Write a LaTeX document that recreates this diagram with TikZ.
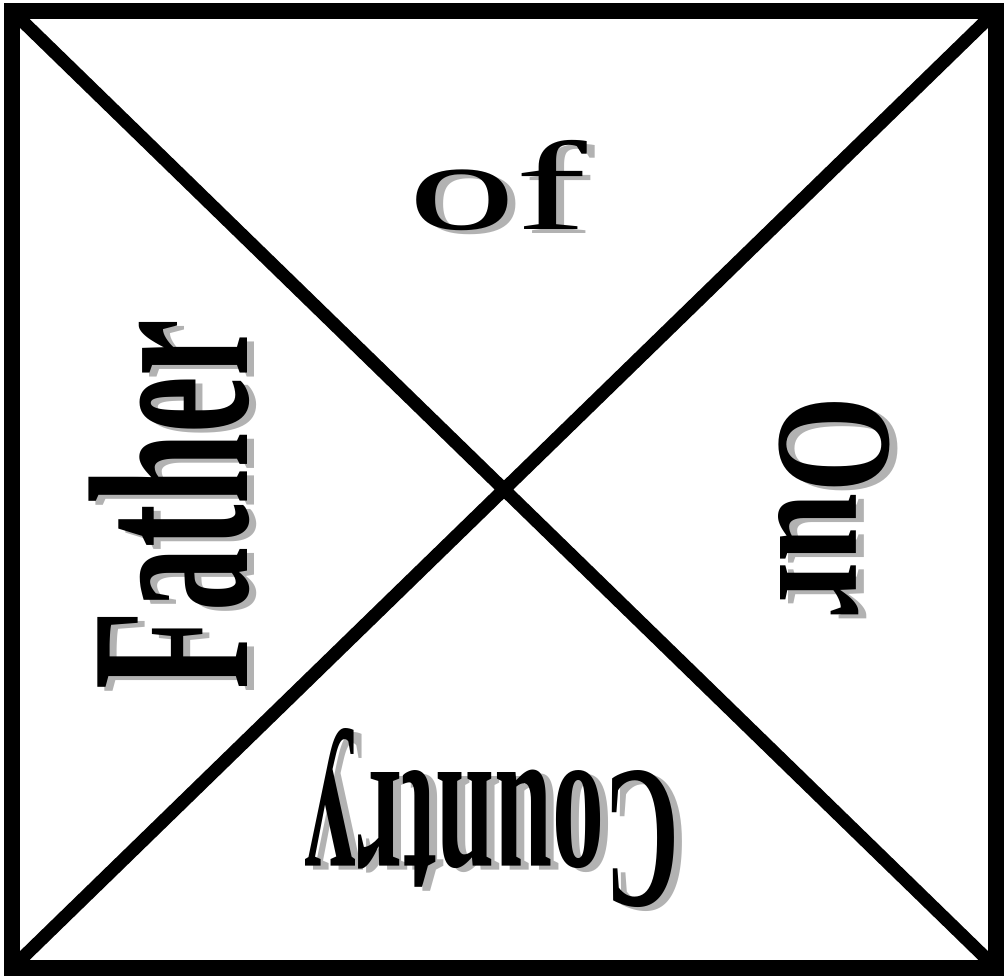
\documentclass[tikz,border=0pt]{standalone}
\usepackage{fontspec}
\setmainfont{Liberation Serif}
\definecolor{shadowgray}{gray}{0.7}
\tikzset{
  word/.style={inner sep=0pt, anchor=base},
}
% keturi žodžiai: #1 spalva, #2 vardų priesaga
\newcommand\wordset[2]{%
  \node[word, text=#1, font=\fontsize{36}{36}\selectfont, xscale=1.7] (of#2) at (498,749) {of};
  \node[word, text=#1, font=\fontsize{65}{65}\selectfont\bfseries, rotate=90, xscale=0.56] (father#2) at (247,474) {Father};
  \node[word, text=#1, font=\fontsize{47}{47}\selectfont\bfseries, rotate=-90, xscale=0.75] (our#2) at (780,472) {Our};
  \node[word, text=#1, font=\fontsize{58}{58}\selectfont\bfseries, rotate=180, xscale=0.51] (country#2) at (492,206) {Country};
}
\begin{document}
\begin{tikzpicture}[x=0.01cm, y=0.01cm]
  \useasboundingbox (0,0) rectangle (1008,979);
  % rėmas ir įstrižainės
  \coordinate (sw) at (12,11);
  \coordinate (se) at (996,11);
  \coordinate (ne) at (996,968);
  \coordinate (nw) at (12,968);
  \draw[line width=4.3pt] (sw) rectangle (ne);
  \draw[line width=3.7pt] (sw) -- (ne) (nw) -- (se);
  % šešėliai
  \begin{scope}[shift={(8,-4)}]
    \wordset{shadowgray}{s}
  \end{scope}
  % žodžiai
  \wordset{black}{}
\end{tikzpicture}
\end{document}
